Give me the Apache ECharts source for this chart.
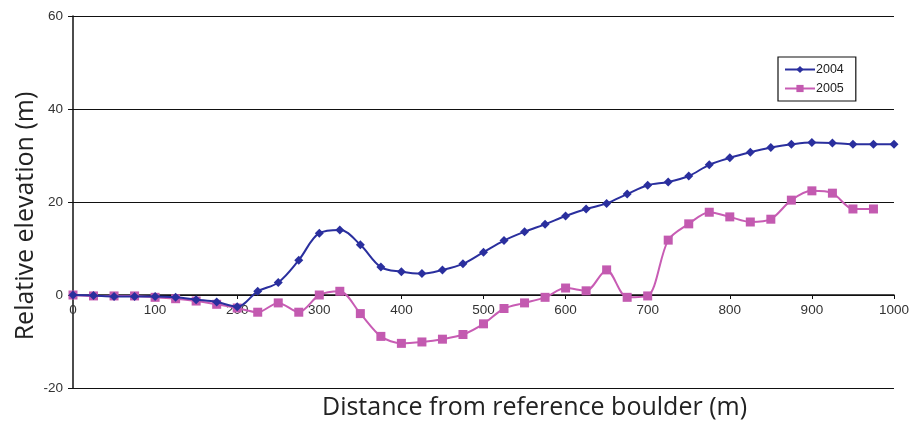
<!DOCTYPE html>
<html><head><meta charset="utf-8">
<script src="https://cdn.jsdelivr.net/npm/echarts@6/dist/echarts.min.js"></script>
<style>html,body{margin:0;padding:0;background:#fff}#c{width:912px;height:424px}</style>
</head><body><div id="c"></div>
<script>
var distances = [0,25,50,75,100,125,150,175,200,225,250,275,300,325,350,375,400,425,450,475,500,525,550,575,600,625,650,675,700,725,750,775,800,825,850,875,900,925,950,975,1000];
var elev2004 = [0,-0.1,-0.3,-0.3,-0.3,-0.5,-1,-1.5,-2.5,0.8,2.7,7.5,13.3,14,10.8,6,5,4.6,5.4,6.7,9.2,11.7,13.6,15.2,17,18.5,19.7,21.7,23.6,24.3,25.6,28,29.5,30.7,31.7,32.4,32.8,32.7,32.4,32.4,32.4];
var elev2005 = [0,-0.2,-0.2,-0.2,-0.5,-0.8,-1.3,-2,-2.8,-3.7,-1.7,-3.7,0,0.8,-4,-8.9,-10.4,-10.1,-9.5,-8.5,-6.2,-2.9,-1.7,-0.5,1.5,0.9,5.4,-0.5,-0.2,11.8,15.3,17.8,16.8,15.7,16.3,20.4,22.4,21.9,18.5,18.5];
var seriesNames = ['2004','2005'];
var xTitle = 'Distance from reference boulder (m)';
var yTitle = 'Relative elevation (m)';

function pairs(v){ return v.map(function(y,i){ return [distances[i], y]; }); }

var chart = echarts.init(document.getElementById('c'));
var font = 'Liberation Sans, Arial, sans-serif';
var titleFont = 'Open Sans, sans-serif';
chart.setOption({
  animation: false,
  textStyle: {fontFamily: font},
  grid: {left: 73, right: 15, top: 16, bottom: 36},
  xAxis: {
    type: 'value', min: 0, max: 1000, interval: 100,
    offset: -93,
    axisLine: {onZero: false, lineStyle: {color: '#111', width: 1.5}},
    axisTick: {show: true, length: 4, lineStyle: {color: '#111'}},
    axisLabel: {color: '#333', fontSize: 13.5, margin: 8, fontFamily: font,
      formatter: function(v){ return String(v); }},
    splitLine: {show: false}
  },
  yAxis: {
    type: 'value', min: -20, max: 60, interval: 20,
    axisLine: {show: true, lineStyle: {color: '#111', width: 1.5}},
    axisTick: {show: true, length: 5, lineStyle: {color: '#111'}},
    axisLabel: {color: '#333', fontSize: 13.5, margin: 10, fontFamily: font},
    splitLine: {show: true, lineStyle: {color: '#111', width: 1.2}}
  },
  legend: {
    orient: 'vertical', left: 778, top: 57,
    borderColor: '#111', borderWidth: 1.2,
    padding: [6, 12, 6, 6], itemGap: 6,
    itemWidth: 30, itemHeight: 9,
    textStyle: {fontSize: 12.5, color: '#222', fontFamily: font, padding: [0,0,0,-4]},
    data: seriesNames
  },
  graphic: [
    {type: 'text', left: 322, top: 395, style: {text: xTitle, fontSize: 25, fontFamily: titleFont, fill: '#222'}},
    {type: 'text', x: 13, y: 216, rotation: Math.PI/2, style: {text: yTitle, fontSize: 25, fontFamily: titleFont, fill: '#222', align: 'center', verticalAlign: 'top'}}
  ],
  series: [
    {name: seriesNames[0], type: 'line', data: pairs(elev2004), smooth: 0.35,
     symbol: 'diamond', symbolSize: 9,
     lineStyle: {color: '#2a2f9e', width: 2}, itemStyle: {color: '#2a2f9e'}, z: 3},
    {name: seriesNames[1], type: 'line', data: pairs(elev2005), smooth: 0.3,
     symbol: 'rect', symbolSize: 9,
     lineStyle: {color: '#c85cb4', width: 2}, itemStyle: {color: '#c35ab0'}, z: 2}
  ]
});
</script></body></html>
